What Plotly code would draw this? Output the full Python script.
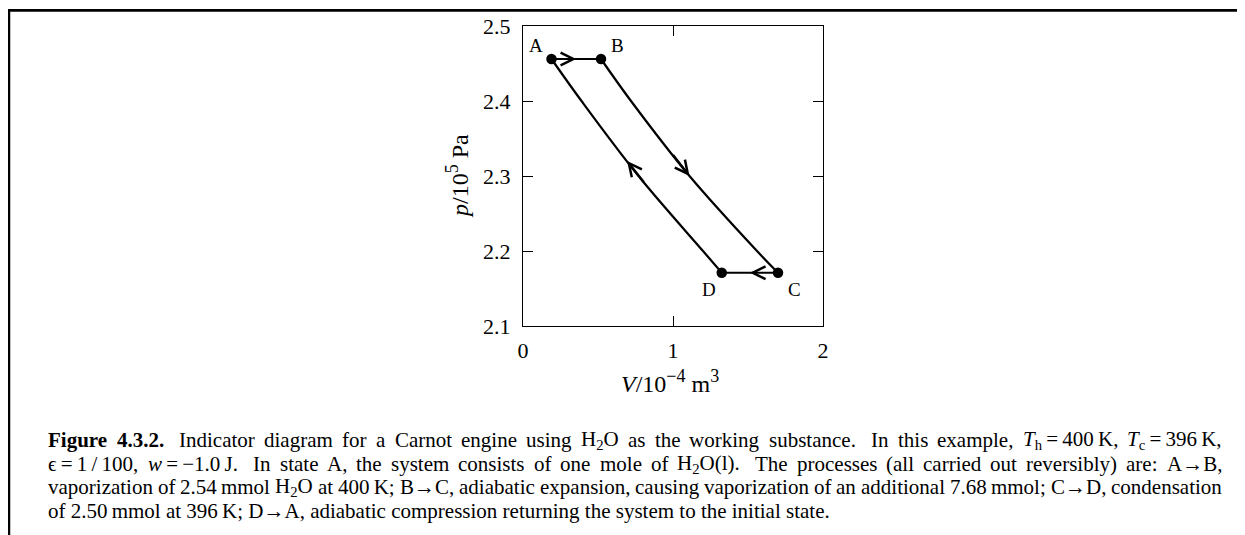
import re
import numpy as np
import plotly.graph_objects as go

# ---------------- data ----------------
states = ["A", "B", "C", "D"]
V_states = [0.19, 0.52, 1.70, 1.325]          # V / 10^-4 m^3
p_states = [2.456, 2.456, 2.171, 2.171]       # p / 10^5 Pa

# adiabat B -> C
V_BC = [0.52, 0.72, 1.11, 1.56, 1.70]
p_BC = [2.456, 2.40, 2.30, 2.20, 2.171]
# adiabat D -> A (listed from A down to D)
V_AD = [0.19, 0.39, 0.77, 1.20, 1.325]
p_AD = [2.456, 2.40, 2.30, 2.20, 2.171]

x_ticks = [0, 1, 2]
x_ticktext = ["0", "1", "2"]
y_ticks = [2.1, 2.2, 2.3, 2.4, 2.5]
y_ticktext = ["2.1", "2.2", "2.3", "2.4", "2.5"]

TS = "\u2009"  # thin space
caption_justified = [
    ["<b>Figure</b>", "<b>4.3.2.</b>|", "Indicator", "diagram", "for", "a", "Carnot", "engine",
     "using", "H<sub>2</sub>O", "as", "the", "working", "substance.|", "In", "this", "example,",
     f"<i>T</i><sub>h</sub>{TS}={TS}400{TS}K,", f"<i>T</i><sub>c</sub>{TS}={TS}396{TS}K,"],
    [f"\u03f5{TS}={TS}1{TS}/{TS}100,", f"<i>w</i>{TS}={TS}\u22121.0{TS}J.|", "In", "state", "A,",
     "the", "system", "consists", "of", "one", "mole", "of", "H<sub>2</sub>O(l).|", "The",
     "processes", "(all", "carried", "out", "reversibly)", "are:", "A\u2192B,"],
    ["vaporization", "of", f"2.54{TS}mmol", "H<sub>2</sub>O", "at", f"400{TS}K;", "B\u2192C,",
     "adiabatic", "expansion,", "causing", "vaporization", "of", "an", "additional",
     f"7.68{TS}mmol;", "C\u2192D,", "condensation"],
]
caption_last = (f"of 2.50{TS}mmol at 396{TS}K; D\u2192A, adiabatic compression returning the "
                f"system to the initial state.")

# ---------------- layout helpers ----------------
OFF = 8                       # default page margin of the html body
W, H = 1245 - OFF, 535 - OFF
ML, MT = 523 - OFF, 26 - OFF
PW, PH = 300, 300
MR, MB = W - ML - PW, H - MT - PH


def pxp(x):   # page pixel -> paper x
    return (x - OFF - ML) / PW


def pyp(y):   # page pixel -> paper y
    return 1 - (y - OFF - MT) / PH


# approximate Times advance widths (1/1000 em) for placing justified words
REG = dict(zip("ABCDEFGHIJKLMNOPQRSTUVW",
               [722, 667, 667, 722, 611, 556, 722, 722, 333, 389, 722, 611, 889, 722, 722, 556,
                722, 667, 556, 611, 722, 722, 944]))
REG.update(dict(zip("abcdefghijklmnopqrstuvwxyz",
                    [444, 500, 444, 500, 444, 333, 500, 500, 278, 278, 500, 278, 778, 500, 500,
                     500, 500, 333, 389, 278, 500, 500, 722, 500, 500, 444])))
REG.update({c: 500 for c in "0123456789"})
REG.update({" ": 250, ".": 250, ",": 250, ";": 278, ":": 278, "(": 333, ")": 333, "/": 278,
            "=": 564, "\u2212": 564, "\u2192": 1000, "\u03f5": 440, TS: 200})
BOLD = dict(REG)
BOLD.update({"F": 611, "u": 556, "r": 444})
ITAL = dict(REG)
ITAL.update({"T": 556, "w": 667})


def text_width(html, fs):
    bold = ital = sub = False
    w = 0.0
    for tok in re.split(r"(<[^>]+>)", html):
        if tok.startswith("<"):
            closing = tok.startswith("</")
            tag = tok.strip("</>").lower()
            if tag == "b":
                bold = not closing
            elif tag == "i":
                ital = not closing
            elif tag in ("sub", "sup"):
                sub = not closing
            continue
        for ch in tok:
            table = BOLD if bold else (ITAL if ital else REG)
            w += table.get(ch, 500) / 1000 * fs * (0.7 if sub else 1.0)
    return w


SERIF = "Liberation Serif, Times New Roman, serif"
LW = 2.2

fig = go.Figure()
line_style = dict(color="black", width=LW)

# isobars A->B and C->D
fig.add_trace(go.Scatter(x=[V_states[0], V_states[1]], y=[p_states[0], p_states[1]],
                         mode="lines", line=line_style, hoverinfo="skip"))
fig.add_trace(go.Scatter(x=[V_states[2], V_states[3]], y=[p_states[2], p_states[3]],
                         mode="lines", line=line_style, hoverinfo="skip"))
# adiabats
fig.add_trace(go.Scatter(x=V_BC, y=p_BC, mode="lines",
                         line=dict(color="black", width=LW, shape="spline", smoothing=1.0),
                         hoverinfo="skip"))
fig.add_trace(go.Scatter(x=V_AD, y=p_AD, mode="lines",
                         line=dict(color="black", width=LW, shape="spline", smoothing=1.0),
                         hoverinfo="skip"))
# state points
fig.add_trace(go.Scatter(x=V_states, y=p_states, mode="markers",
                         marker=dict(color="black", size=10.5), hoverinfo="skip"))

annotations = []

# state labels
label_shift = {"A": (-16, 14), "B": (16, 14), "C": (16, -17), "D": (-13, -17)}
for s, v, p in zip(states, V_states, p_states):
    dx, dy = label_shift[s]
    annotations.append(dict(x=v, y=p, xref="x", yref="y", text=s, showarrow=False,
                            xshift=dx, yshift=dy, font=dict(family=SERIF, size=19, color="black")))


# direction arrows
def arrow(tip_x, tip_y, tail_x, tail_y):
    annotations.append(dict(x=tip_x, y=tip_y, ax=tail_x, ay=tail_y, xref="x", yref="y",
                            axref="x", ayref="y", text="", showarrow=True, arrowhead=5,
                            arrowsize=1.15, arrowwidth=LW, arrowcolor="black", standoff=0,
                            startstandoff=0))


mAB = 0.5 * (V_states[0] + V_states[1])
arrow(mAB, p_states[0], mAB - 0.05, p_states[0])
mCD = 0.5 * (V_states[2] + V_states[3])
arrow(mCD, p_states[2], mCD + 0.05, p_states[2])
pBC_tip, pBC_tail = 2.30, 2.33
arrow(np.interp(pBC_tip, p_BC[::-1], V_BC[::-1]), pBC_tip,
      np.interp(pBC_tail, p_BC[::-1], V_BC[::-1]), pBC_tail)
pAD_tip, pAD_tail = 2.32, 2.29
arrow(np.interp(pAD_tip, p_AD[::-1], V_AD[::-1]), pAD_tip,
      np.interp(pAD_tail, p_AD[::-1], V_AD[::-1]), pAD_tail)

# axis titles
SUP = "<sup><span style='font-size:18px'>{}</span></sup>"
annotations.append(dict(x=pxp(670), y=pyp(381), xref="paper", yref="paper",
                        text="<i>V</i>/10" + SUP.format("\u22124") + " m" + SUP.format("3"),
                        showarrow=False, xanchor="center", yanchor="middle",
                        font=dict(family=SERIF, size=24, color="black")))
annotations.append(dict(x=pxp(457), y=pyp(176), xref="paper", yref="paper",
                        text="<i>p</i>/10" + SUP.format("5") + " Pa", showarrow=False,
                        textangle=-90, xanchor="center", yanchor="middle",
                        font=dict(family=SERIF, size=24, color="black")))

# caption (justified lines placed word by word)
CAP_FS = 21
cap_y = [440, 463.5, 487, 511]
cap_left, cap_right = 48, 1222
for words, yy in zip(caption_justified, cap_y):
    clean = [w.rstrip("|") for w in words]
    extra = [0.3 * CAP_FS if w.endswith("|") else 0.0 for w in words]
    widths = [text_width(w, CAP_FS) for w in clean]
    total_gap = (cap_right - cap_left) - sum(widths) - sum(extra[:-1])
    gap = total_gap / (len(words) - 1)
    xcur = cap_left
    for w, wd, ex in zip(clean, widths, extra):
        annotations.append(dict(x=pxp(xcur), y=pyp(yy), xref="paper", yref="paper", text=w,
                                showarrow=False, xanchor="left", yanchor="middle",
                                borderpad=0, borderwidth=0,
                                font=dict(family=SERIF, size=CAP_FS, color="black")))
        xcur += wd + gap + ex
annotations.append(dict(x=pxp(cap_left), y=pyp(cap_y[3]), xref="paper", yref="paper",
                        text=caption_last, showarrow=False, xanchor="left", yanchor="middle",
                        borderpad=0, borderwidth=0,
                        font=dict(family=SERIF, size=CAP_FS, color="black")))

shapes = [
    dict(type="line", xref="paper", yref="paper", x0=pxp(7.3), x1=pxp(1246),
         y0=pyp(10.3), y1=pyp(10.3), line=dict(color="black", width=2.7)),
    dict(type="line", xref="paper", yref="paper", x0=pxp(8.9), x1=pxp(8.9),
         y0=pyp(9), y1=pyp(536), line=dict(color="black", width=2.7)),
]

axis_common = dict(showline=True, linecolor="black", linewidth=1.3, mirror="ticks",
                   ticks="inside", ticklen=10, tickwidth=1.3, tickcolor="black",
                   showgrid=False, zeroline=False,
                   tickfont=dict(family=SERIF, size=22, color="black"))

fig.update_layout(
    width=W, height=H,
    margin=dict(l=ML, r=MR, t=MT, b=MB, autoexpand=False),
    paper_bgcolor="white", plot_bgcolor="white",
    showlegend=False,
    xaxis=dict(range=[0, 2], tickvals=x_ticks, ticktext=x_ticktext, ticklabelstandoff=4,
               **axis_common),
    yaxis=dict(range=[2.1, 2.5], tickvals=y_ticks, ticktext=y_ticktext, ticklabelstandoff=7,
               **axis_common),
    annotations=annotations,
    shapes=shapes,
)

fig.write_html("out.html")
